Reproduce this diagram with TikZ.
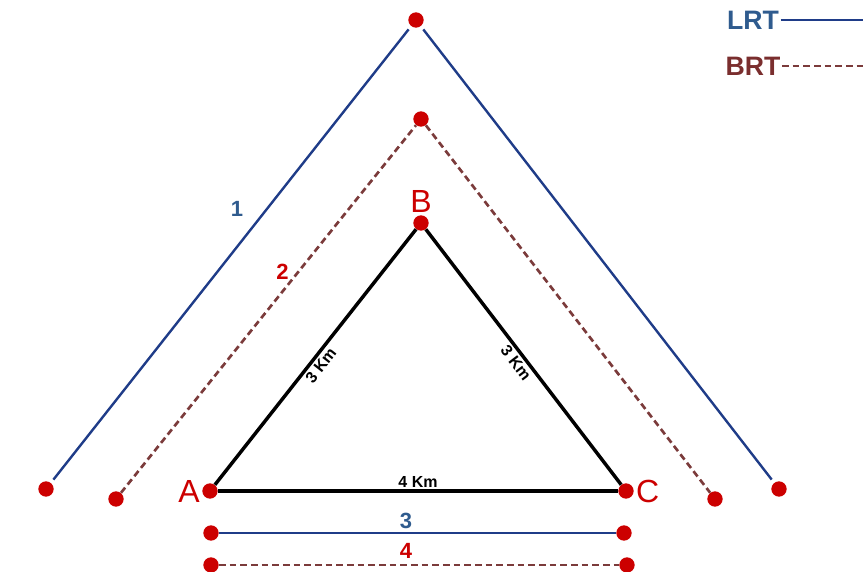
\documentclass[tikz,border=0pt]{standalone}
\usepackage{fontspec}
\setmainfont{Liberation Sans}
\usepackage{tikz}
\usetikzlibrary{positioning}
\usepackage{xcolor}

\definecolor{lrtline}{HTML}{1F3C88}
\definecolor{lrttext}{HTML}{2F5B8E}
\definecolor{brtline}{HTML}{7B3B3B}
\definecolor{brttext}{HTML}{7A2E2E}
\definecolor{stop}{HTML}{CC0000}

\begin{document}
\begin{tikzpicture}[x=0.75pt, y=-0.75pt,
    dot/.style={circle, fill=stop, inner sep=0pt, minimum size=11.5pt},
    lrt/.style={draw=lrtline, line width=1.8pt},
    brt/.style={draw=brtline, line width=2pt, dash pattern=on 5pt off 3pt},
    road/.style={draw=black, line width=2.6pt},
    town/.style={text=stop, font=\fontsize{24}{24}\selectfont, inner sep=1pt},
    km/.style={font=\bfseries\fontsize{12}{12}\selectfont, inner sep=1.5pt},
    num/.style={font=\bfseries\fontsize{16.5}{16.5}\selectfont, inner sep=1pt}]
    \useasboundingbox (0,0) rectangle (863,571);

    %triangle
    \node (A) [dot] at (210,491) {};
    \node (B) [dot] at (421,223) {};
    \node (C) [dot] at (626,491) {};
    \node (nameA) [town, left=0.5pt of A] {A};
    \node (nameB) [town, above=0.5pt of B] {B};
    \node (nameC) [town, right=0.5pt of C] {C};
    \draw[road] (A) -- node (ab) [km, sloped, below, pos=0.49] {3 Km} (B);
    \draw[road] (B) -- node (bc) [km, sloped, below, pos=0.5] {3 Km} (C);
    \draw[road] (A) -- node (ac) [km, above] {4 Km} (C);

    %route 1 (LRT)
    \node (l1) [dot] at (46,489) {};
    \node (t1) [dot] at (416,20) {};
    \node (r1) [dot] at (779,489) {};
    \draw[lrt, shorten <=3pt, shorten >=3pt] (l1) -- node (one) [num, text=lrttext, pos=0.6, left=16pt] {1} (t1);
    \draw[lrt, shorten <=3pt, shorten >=3pt] (t1) -- (r1);

    %route 2 (BRT)
    \node (l2) [dot] at (116,499) {};
    \node (t2) [dot] at (421,119) {};
    \node (r2) [dot] at (715,499) {};
    \draw[brt] (l2) -- node (two) [num, text=stop, pos=0.6, left=5pt] {2} (t2);
    \draw[brt] (t2) -- (r2);

    %route 3 (LRT)
    \node (l3) [dot] at (211,533) {};
    \node (r3) [dot] at (624,533) {};
    \draw[lrt] (l3) -- (r3);
    \node (three) [num, text=lrttext] at (406,521) {3};

    %route 4 (BRT)
    \node (l4) [dot] at (211,565) {};
    \node (r4) [dot] at (627,565) {};
    \draw[brt] (l4) -- (r4);
    \node (four) [num, text=stop] at (406,551) {4};

    %legend
    \node (lrtkey) [font=\bfseries\fontsize{20}{20}\selectfont, text=lrttext, inner sep=1pt] at (753,20) {LRT};
    \node (brtkey) [font=\bfseries\fontsize{20}{20}\selectfont, text=brttext, inner sep=1pt] at (753,66) {BRT};
    \coordinate (lrtend) at (863,20);
    \coordinate (brtend) at (863,66);
    \draw[lrt] (lrtkey) -- (lrtend);
    \draw[brt] (brtkey) -- (brtend);
\end{tikzpicture}
\end{document}
